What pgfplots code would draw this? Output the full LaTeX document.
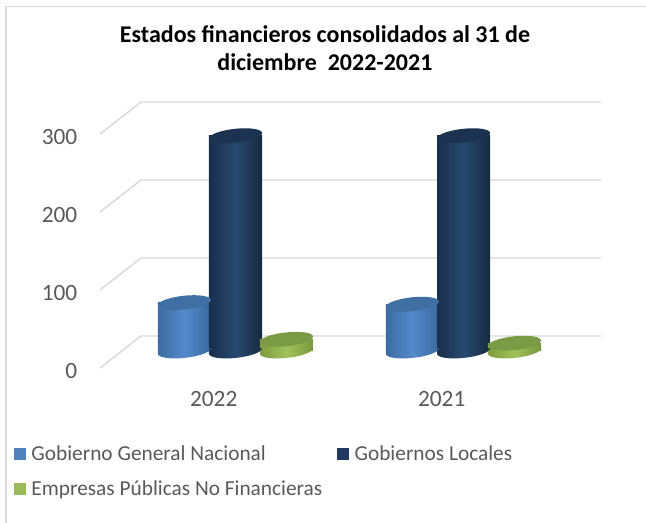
\documentclass[border=0pt]{standalone}
\usepackage{fontspec}
\setmainfont{Carlito}
\usepackage{pgfplots}
\usepackage{pgfplotstable}
\pgfplotsset{compat=1.18}

\definecolor{gridc}{HTML}{D9D9D9}
\definecolor{textc}{HTML}{595959}
\definecolor{blueflat}{HTML}{4F81BD}
\definecolor{navyflat}{HTML}{1F3864}
\definecolor{greenflat}{HTML}{9BBB59}
\definecolor{bluecap}{HTML}{3F6FA3}
\definecolor{navycap}{HTML}{1B3350}
\definecolor{greencap}{HTML}{7A9A45}

% the path's box maps onto the middle 50bp of a shading
\pgfdeclarehorizontalshading{cylblue}{100bp}{rgb(0bp)=(0.24,0.42,0.63); rgb(25bp)=(0.24,0.42,0.63); rgb(50bp)=(0.33,0.54,0.80); rgb(75bp)=(0.22,0.41,0.62); rgb(100bp)=(0.22,0.41,0.62)}
\pgfdeclarehorizontalshading{cylnavy}{100bp}{rgb(0bp)=(0.10,0.18,0.30); rgb(25bp)=(0.10,0.18,0.30); rgb(50bp)=(0.15,0.29,0.44); rgb(75bp)=(0.09,0.16,0.25); rgb(100bp)=(0.09,0.16,0.25)}
\pgfdeclarehorizontalshading{cylgreen}{100bp}{rgb(0bp)=(0.49,0.61,0.25); rgb(25bp)=(0.49,0.61,0.25); rgb(50bp)=(0.63,0.76,0.35); rgb(75bp)=(0.47,0.59,0.25); rgb(100bp)=(0.47,0.59,0.25)}

% tilted ellipse for the cap, lower half of it for the shaded foot
\pgfdeclareplotmark{cylcap}{%
  \pgfpathellipse{\pgfpointorigin}{\pgfqpoint{19.9pt}{2pt}}{\pgfqpoint{0pt}{5.2pt}}%
  \pgfusepath{fill}}
\newcommand{\footmark}[1]{%
  \pgfdeclareplotmark{foot#1}{%
    \pgfpathmoveto{\pgfqpoint{-19.9pt}{-2pt}}%
    \pgfpatharcaxes{180}{360}{\pgfqpoint{19.9pt}{2pt}}{\pgfqpoint{0pt}{5.2pt}}%
    \pgfpathlineto{\pgfqpoint{-19.9pt}{0.5pt}}%
    \pgfpathclose
    \pgfshadepath{#1}{0}\pgfusepath{discard}}}
\footmark{cylblue}\footmark{cylnavy}\footmark{cylgreen}

\pgfplotstableread{
x gg gl ep zero
0 62 276 15 0
1 60 276 10 0
}\findata

\pgfplotsset{
  swatch/.style={legend image code/.code={\fill[fill=#1,draw=none] (0pt,-4.5pt) rectangle (9pt,4.5pt);\path (11pt,0pt);}},
  cylbar/.style n args={2}{forget plot,ybar,bar width=39.8pt,bar shift=0pt,draw=none,shade,shading=#2,xshift=#1,yshift=12.75pt},
}

% one series: #1 column, #2 x offset, #3 shading, #4 cap colour
% each bar is its own plot, or the shading would run across both of them
\newcommand{\cylseries}[4]{%
  \addplot[forget plot,only marks,mark=foot#3,xshift=#2,yshift=12.75pt] table[x=x,y=zero]{\findata};
  \addplot[cylbar={#2}{#3},restrict x to domain=0:0] table[x=x,y=#1]{\findata};
  \addplot[cylbar={#2}{#3},restrict x to domain=1:1] table[x=x,y=#1]{\findata};
  \addplot[forget plot,only marks,mark=cylcap,mark options={fill=#4,draw=none},xshift=#2,yshift=12.75pt] table[x=x,y=#1]{\findata};
}

\begin{document}
\begin{tikzpicture}
\path[use as bounding box] (-75pt,-116.25pt) rectangle (409.5pt,276pt);
\draw[gridc,line width=1.4pt] (-70.5pt,-116.25pt) -- (-70.5pt,271.1pt) -- (409.5pt,271.1pt);
\begin{axis}[
  at={(0pt,0pt)},anchor=south west,
  width=375.75pt,height=199.5pt,scale only axis,
  xmin=-0.592,xmax=1.605,ymin=0,ymax=341,
  clip=false,
  axis line style={draw=none},
  major tick length=0pt,
  xtick={0,1},xticklabels={2022,2021},
  ytick={0,100,200,300},
  tick label style={font=\fontsize{17.5}{20}\selectfont,text=textc},
  xticklabel style={xshift=-16pt,yshift=-14pt},
  yticklabel style={xshift=-13.5pt,yshift=-2pt},
  /pgf/number format/assume math mode=true,
  title={Estados financieros consolidados al 31 de\\diciembre\ \ 2022-2021},
  title style={at={(axis description cs:0.449,1.1725)},anchor=center,align=center,
    font=\fontsize{18}{21}\selectfont\bfseries,text=black},
  legend columns=2,
  legend cell align=left,
  legend style={at={(axis description cs:-0.172,-0.281)},anchor=north west,draw=none,fill=none,
    inner sep=0pt,outer sep=0pt,font=\fontsize{16}{19}\selectfont,text=textc,
    /tikz/row sep=9.5pt,
    /tikz/every even column/.append style={column sep=9pt}},
]
\addplot[forget plot,gridc,line width=1.1pt] coordinates {(-0.592,0) (-0.412,41) (1.605,41)};
\addplot[forget plot,gridc,line width=1.1pt] coordinates {(-0.592,100) (-0.412,141) (1.605,141)};
\addplot[forget plot,gridc,line width=1.1pt] coordinates {(-0.592,200) (-0.412,241) (1.605,241)};
\addplot[forget plot,gridc,line width=1.1pt] coordinates {(-0.592,300) (-0.412,341) (1.605,341)};
\cylseries{gg}{-38pt}{cylblue}{bluecap}
\cylseries{gl}{0.4pt}{cylnavy}{navycap}
\cylseries{ep}{38.6pt}{cylgreen}{greencap}
\addlegendimage{swatch=blueflat}
\addlegendentry{Gobierno General Nacional}
\addlegendimage{swatch=navyflat}
\addlegendentry{Gobiernos Locales}
\addlegendimage{swatch=greenflat}
\addlegendentry{Empresas Públicas No Financieras}
\end{axis}
\end{tikzpicture}
\end{document}
